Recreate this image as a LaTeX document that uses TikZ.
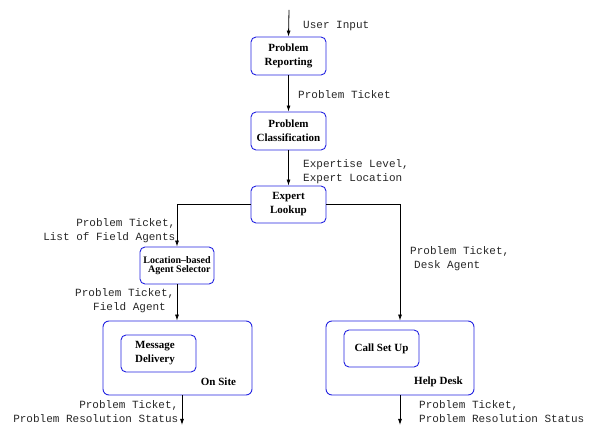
\documentclass[tikz,border=0pt]{standalone}
\usepackage{fontspec}
\setmainfont{Liberation Serif}
\setmonofont{Liberation Mono}
\usetikzlibrary{arrows.meta}
\definecolor{boxblue}{RGB}{35,35,225}
\tikzset{
  procbox/.style={draw=boxblue, line width=0.9pt, rounded corners=5pt, font=\fontsize{11}{14}\selectfont\bfseries, align=center, inner sep=0pt},
  groupbox/.style={draw=boxblue, line width=0.9pt, rounded corners=6pt, inner sep=0pt},
  lbl/.style={font=\fontsize{11}{14}\selectfont\ttfamily, inner sep=0pt, text=black!85},
  flow/.style={draw=black, line width=0.8pt, -{Latex[length=6pt,width=4pt]}},
  grouptitle/.style={font=\fontsize{11}{14}\selectfont\bfseries, inner sep=0pt}
}
\begin{document}
\begin{tikzpicture}[x=1pt,y=-1pt]
\useasboundingbox (0,0) rectangle (592,427);

% main chain
\node[procbox, minimum width=75pt, minimum height=38pt] (rep) at (288.5,56) {Problem\\Reporting};
\node[procbox, minimum width=75pt, minimum height=38pt] (cls) at (288.5,131) {Problem\\Classification};
\node[procbox, minimum width=75pt, minimum height=37pt] (look) at (288.5,204.5) {Expert\\Lookup};
\node[procbox, minimum width=74pt, minimum height=37pt, font=\fontsize{10}{9}\selectfont\bfseries, align=right] (loc) at (177,265.5) {Location--based\\Agent Selector};

% group boxes
\node[groupbox, minimum width=149pt, minimum height=74pt] (onsite) at (177.5,358) {};
\node[procbox, minimum width=75pt, minimum height=37pt, align=left] (msg) at (158.5,353.5) {\hspace*{13pt}Message\hspace*{20pt}\\\hspace*{13pt}Delivery};
\node[grouptitle] (onsitet) at (218.5,382) {On Site};

\node[groupbox, minimum width=148pt, minimum height=74pt] (help) at (400,358) {};
\node[procbox, minimum width=75pt, minimum height=37pt] (call) at (381.5,348.5) {Call Set Up};
\node[grouptitle] (helpt) at (438.5,382) {Help Desk};

% free ends
\coordinate (in) at (289,10);
\coordinate (out1) at (182,425);
\coordinate (out2) at (400,425);

% connectors
\draw[flow] (in) -- (rep.north);
\draw[flow] (rep.south) -- (cls.north);
\draw[flow] (cls.south) -- (look.north);
\draw[flow] (look.west) -| (loc.north);
\draw[flow] (look.east) -| (help.north);
\draw[flow] (loc.south) -- (loc.south |- onsite.north);
\draw[flow] (out1 |- onsite.south) -- (out1);
\draw[flow] (help.south) -- (out2);

% labels
\node[lbl, anchor=west] (l1) at (303,26) {User Input};
\node[lbl, anchor=west] (l2) at (298,95) {Problem Ticket};
\node[lbl, anchor=north west, align=left] (l3) at (303,159) {Expertise Level,\\Expert Location};
\node[lbl, anchor=north east, align=right] (l4) at (175.5,218) {Problem Ticket,\\List of Field Agents};
\node[lbl, anchor=north west, align=left] (l5) at (75,288.5) {Problem Ticket,\\\hspace*{18pt}Field Agent};
\node[lbl, anchor=north west, align=left] (l6) at (410,246) {Problem Ticket,\\\hspace*{4pt}Desk Agent};
\node[lbl, anchor=north east, align=right] (l7) at (178.5,400.5) {Problem Ticket,\\Problem Resolution Status};
\node[lbl, anchor=north west, align=left] (l8) at (419,400.5) {Problem Ticket,\\Problem Resolution Status};
\end{tikzpicture}
\end{document}
